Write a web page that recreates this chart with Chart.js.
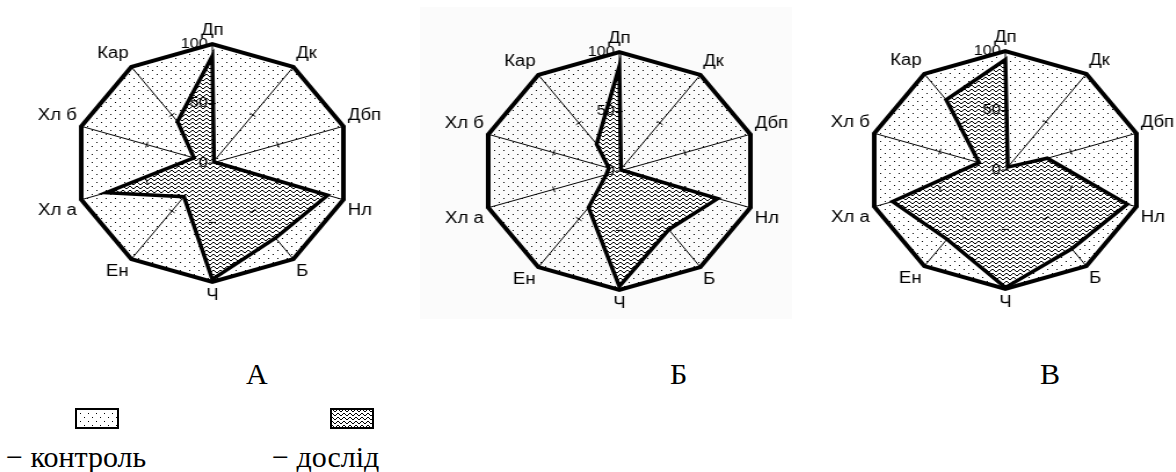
<!DOCTYPE html>
<html>
<head>
<meta charset="utf-8">
<script src="https://cdn.jsdelivr.net/npm/chart.js@4.4.0/dist/chart.umd.min.js"></script>
<style>
    body { margin: 0; width: 1176px; height: 472px; background: #fff; position: relative; overflow: hidden; }
    .panel { position: absolute; width: 310px; height: 284px; transform: scaleX(1.16); }
    .fon { position: absolute; left: 420px; top: 7px; width: 372px; height: 312px; background: #fbfbfb; }
    .pidpys { position: absolute; font-family: "Liberation Serif", "Times New Roman", serif; font-size: 30px; line-height: 30px; color: #000; white-space: nowrap; }
    .korobka { position: absolute; }
</style>
</head>
<body>
<div class="fon"></div>
<div class="panel" style="left:55px; top:21px;"><canvas id="grafikA" width="310" height="284"></canvas></div>
<div class="panel" style="left:462px; top:29px;"><canvas id="grafikB" width="310" height="284"></canvas></div>
<div class="panel" style="left:848px; top:28px;"><canvas id="grafikC" width="310" height="284"></canvas></div>

<div class="pidpys" style="left:246px; top:359px;">А</div>
<div class="pidpys" style="left:670px; top:359px;">Б</div>
<div class="pidpys" style="left:1040px; top:359px;">В</div>

<canvas class="korobka" id="korobkaKontrol" width="44" height="21" style="left:75px; top:408px;"></canvas>
<canvas class="korobka" id="korobkaDoslid" width="44" height="21" style="left:330px; top:408px;"></canvas>
<div class="pidpys" style="left:6px; top:442px;">− контроль</div>
<div class="pidpys" style="left:272px; top:442px;">− дослід</div>

<script>
// осі діаграми
const pokaznyky = ['Дп', 'Дк', 'Дбп', 'Нл', 'Б', 'Ч', 'Ен', 'Хл а', 'Хл б', 'Кар'];

// контроль = 100 % по всіх показниках
const kontrol = [100, 100, 100, 100, 100, 100, 100, 100, 100, 100];

// дослід, % від контролю
const doslidA = [90, 2, 2, 88, 78, 98, 35, 81, 14, 43];
const doslidB = [88, 2, 2, 75, 61, 97, 38, 10, 8, 28];
const doslidC = [93, 3, 32, 93, 82, 99, 72, 86, 20, 73];

// підписи шкали на осі Дп
const mitkyShkaly = [0, 50, 100];


function patternTochky() {
    const c = document.createElement('canvas');
    c.width = 8;
    c.height = 8;
    const g = c.getContext('2d');
    g.fillStyle = '#000';
    g.fillRect(1, 1, 1, 1);
    g.fillRect(5, 5, 1, 1);
    return g.createPattern(c, 'repeat');
}

// хвилі - по пікселях, щоб було чітко
function patternKhvyli() {
    const c = document.createElement('canvas');
    c.width = 6;
    c.height = 4;
    const g = c.getContext('2d');
    g.fillStyle = '#fff';
    g.fillRect(0, 0, 6, 4);
    g.fillStyle = '#000';
    const hvylia = [2, 1, 1, 2, 3, 3];
    hvylia.forEach((y, x) => g.fillRect(x, y, 1, 1));
    return g.createPattern(c, 'repeat');
}

const tochky = patternTochky();
const khvyli = patternKhvyli();

// риски на осях і підписи 0, 50, 100
const mitkyPlugin = {
    id: 'mitky',
    afterDraw(chart) {
        const s = chart.scales.r;
        const ctx = chart.ctx;
        ctx.save();
        ctx.strokeStyle = '#000';
        ctx.lineWidth = 1;
        for (let i = 0; i < pokaznyky.length; i++) {
            const kut = s.getIndexAngle(i) - Math.PI / 2;
            const px = -Math.sin(kut), py = Math.cos(kut);
            const znach = i === 0 ? mitkyShkaly : [50];
            znach.forEach(v => {
                const p = s.getPointPositionForValue(i, v);
                ctx.beginPath();
                ctx.moveTo(p.x - px * 3, p.y - py * 3);
                ctx.lineTo(p.x + px * 3, p.y + py * 3);
                ctx.stroke();
            });
        }
        ctx.fillStyle = '#000';
        ctx.font = '14px "Liberation Sans", Arial, sans-serif';
        ctx.textAlign = 'right';
        ctx.textBaseline = 'middle';
        mitkyShkaly.forEach(v => {
            const p = s.getPointPositionForValue(0, v);
            ctx.fillText(String(v), p.x - 4, p.y);
        });
        ctx.restore();
    }
};

function stvorytyGrafik(id, doslid) {
    const ctx = document.getElementById(id).getContext('2d');
    return new Chart(ctx, {
        type: 'radar',
        data: {
            labels: pokaznyky,
            datasets: [
                {
                    label: 'дослід',
                    data: doslid,
                    backgroundColor: khvyli,
                    borderColor: '#000',
                    borderWidth: 3.5,
                    borderJoinStyle: 'miter',
                    fill: true,
                    pointRadius: 0
                },
                {
                    label: 'контроль',
                    data: kontrol,
                    backgroundColor: tochky,
                    borderColor: '#000',
                    borderWidth: 4,
                    borderJoinStyle: 'miter',
                    fill: true,
                    pointRadius: 0
                }
            ]
        },
        options: {
            responsive: false,
            animation: false,
            layout: { padding: 0 },
            plugins: {
                legend: { display: false },
                tooltip: { enabled: false }
            },
            elements: { line: { tension: 0 } },
            scales: {
                r: {
                    min: 0,
                    max: 100,
                    z: 1,
                    ticks: { display: false, stepSize: 50 },
                    grid: { display: false },
                    angleLines: { color: '#000', lineWidth: 1 },
                    pointLabels: {
                        color: '#000',
                        padding: 4,
                        font: { family: '"Liberation Sans", Arial, sans-serif', size: 16 }
                    }
                }
            }
        },
        plugins: [mitkyPlugin]
    });
}

function korobka(id, pattern) {
    const c = document.getElementById(id);
    const g = c.getContext('2d');
    g.fillStyle = '#fff';
    g.fillRect(0, 0, c.width, c.height);
    g.fillStyle = pattern;
    g.fillRect(0, 0, c.width, c.height);
    g.strokeStyle = '#000';
    g.lineWidth = 2;
    g.strokeRect(1, 1, c.width - 2, c.height - 2);
}

stvorytyGrafik('grafikA', doslidA);
stvorytyGrafik('grafikB', doslidB);
stvorytyGrafik('grafikC', doslidC);

korobka('korobkaKontrol', tochky);
korobka('korobkaDoslid', khvyli);
</script>
</body>
</html>
